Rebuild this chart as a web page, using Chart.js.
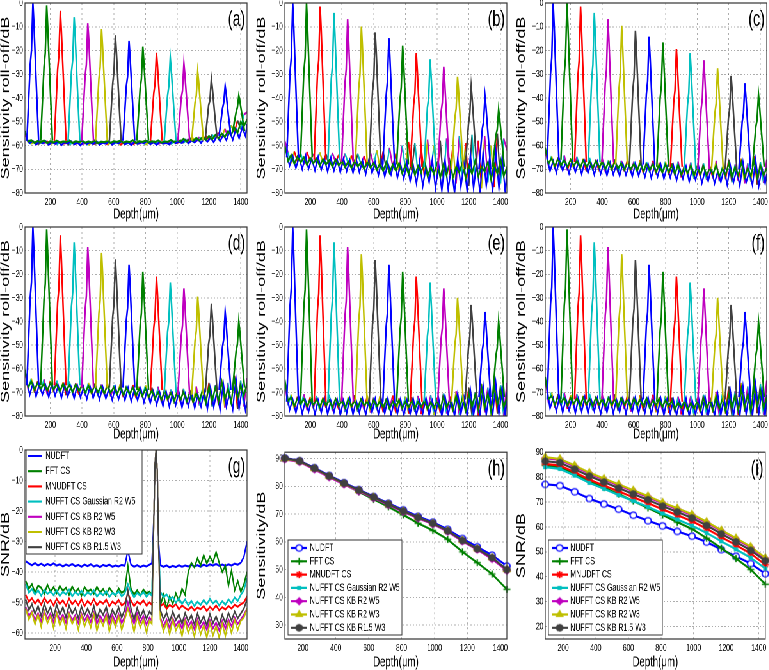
<!DOCTYPE html>
<html>
<head>
<title>Sensitivity roll-off</title>
<script src="https://cdn.jsdelivr.net/npm/chart.js@4.4.1/dist/chart.umd.min.js"></script>
<style>
body { margin: 0; background: #fff; overflow: hidden; }
#page { position: absolute; left: 0; top: 0; width: 1202px; height: 670px; transform-origin: 0 0; }
.cell { position: absolute; }
</style>
</head>
<body>
<div id="page"></div>
<script>
// ---- data ----
const depthPeak = [90,177,263,350,436,523,610,696,783,869,956,1042,1129,1215,1302,1388];
const peakOffset = [-38,-17,-9,0,6,20,36];
const depthNoise = [40,60,80,100,120,140,160,180,200,220,240,260,280,300,320,340,360,380,400,420,
  440,460,480,500,520,540,560,580,600,620,640,660,680,700,720,740,760,780,800,820,
  840,860,880,900,920,940,960,980,1000,1020,1040,1060,1080,1100,1120,1140,1160,1180,1200,1220,
  1240,1260,1280,1300,1320,1340,1360,1380,1400,1420,1440];
const depthNoiseB = [50,70,90,110,130,150,170,190,210,230,250,270,290,310,330,350,370,390,410,430,
  450,470,490,510,530,550,570,590,610,630,650,670,690,710,730,750,770,790,810,830,
  850,870,890,910,930,950,970,990,1010,1030,1050,1070,1090,1110,1130,1150,1170,1190,1210,1230,
  1250,1270,1290,1310,1330,1350,1370,1390,1410,1430,1440];
const depthTicks = [200,400,600,800,1000,1200,1400];
const rollTicks = [-80,-70,-60,-50,-40,-30,-20,-10,0];

const peaksA = [
  [-58,-26,-20,0,-8,-32,-58],[-58,-27,-21,-1,-9,-32,-58],[-58,-28,-22,-3.3,-11,-33,-58],[-58,-29,-24,-6,-13,-35,-58],
  [-58,-31,-26,-8.5,-15,-36,-58],[-58,-32,-27,-11,-18,-37,-58],[-58,-34,-29,-13.6,-20,-38,-58],[-58,-35,-31,-16,-22,-39,-58],
  [-58,-36,-32,-18.4,-24,-40,-58],[-58,-38,-34,-21,-26,-41,-58],[-58,-39,-35,-23,-28,-42,-58],[-58,-40,-37,-25.5,-30,-43,-58],
  [-58,-42,-39,-29,-33,-45,-58],[-57,-43,-41,-32,-35.5,-46,-57],[-56,-44.5,-42,-35,-38,-47,-56],[-54,-46,-44,-39,-41,-47,-54]];
const peaksB = [
  [-65,-29,-23,0,-9,-36,-65],[-65,-29,-23,0,-9,-36,-65],[-66,-30,-24,-1.5,-10.5,-37,-66],[-66,-32,-26,-4.2,-13,-38,-66],
  [-67,-34,-28,-6.8,-15,-40,-67],[-67,-36,-30,-9.9,-18,-41,-67],[-68,-37,-32,-12.4,-20,-43,-68],[-68,-39,-33,-14.8,-22,-44,-68],
  [-68,-40.5,-35.5,-18,-25,-45.5,-68],[-69,-43,-38,-21.1,-28,-47,-69],[-69,-44,-40,-23.7,-30,-49,-69],[-70,-46,-42,-26.9,-33,-51,-70],
  [-70,-48.5,-44.5,-31.1,-36.5,-52.5,-70],[-70,-51,-47,-35.2,-40,-54,-70],[-70,-53,-50,-39.2,-43.5,-56,-70],[-69,-55.7,-53.3,-44.8,-48.2,-58,-69]];
const peaksC = [
  [-66,-30,-23,0,-9,-36,-66],[-66,-30,-23,0,-9,-36,-66],[-67,-31,-24.4,-1.5,-10.7,-37.5,-67],[-67,-32.5,-26,-4.2,-13,-38.7,-67],
  [-67,-34,-28,-6.8,-15,-40,-67],[-68,-36,-30,-9.6,-18,-41.7,-68],[-68,-37,-31.4,-11.7,-19.6,-42.7,-68],[-68,-38.4,-33,-14.2,-21.7,-43.8,-68],
  [-69,-40.2,-35,-16.6,-24,-45.4,-69],[-69,-41.7,-36.8,-19.4,-26.3,-46.7,-69],[-70,-43,-38,-21.1,-28,-48,-70],[-70,-44.8,-40.2,-24.1,-30.5,-49.3,-70],
  [-70,-46.6,-42.4,-27.5,-33.4,-50.9,-70],[-70,-48.4,-44.5,-30.7,-36.2,-52.3,-70],[-70,-50,-46.5,-33.8,-39,-53.7,-70],[-69,-52.2,-49.2,-38.5,-42.8,-55.3,-69]];
const peaksD = [
  [-67,-30,-23.4,0,-9.4,-36.8,-67],[-67,-30.7,-24,-1,-10.2,-37.3,-67],[-67,-32,-25.7,-3.5,-12.4,-38.4,-67],[-67,-33.7,-27.7,-6.5,-15,-39.8,-67],
  [-68,-35.3,-29.3,-8.5,-16.8,-41.2,-68],[-68,-36.6,-31,-11,-19,-42.3,-68],[-68,-38.1,-32.7,-13.7,-21.3,-43.6,-68],[-68,-39.4,-34.2,-16,-23.3,-44.6,-68],
  [-69,-41.5,-36.5,-19,-26,-46.5,-69],[-69,-42.6,-37.8,-21,-27.7,-47.4,-69],[-70,-44.4,-39.8,-23.5,-30,-49.1,-70],[-71,-46.3,-41.8,-26,-32.3,-50.8,-71],
  [-71,-48.2,-44,-29.5,-35.3,-52.3,-71],[-70,-49.4,-45.6,-32.5,-37.7,-53.1,-70],[-69,-50.8,-47.5,-36,-40.6,-54.1,-69],[-68,-52.6,-49.8,-40,-43.9,-55.4,-68]];
const peaksE = [
  [-74,-33.3,-25.9,0,-10.4,-40.7,-74],[-74,-33.8,-26.5,-1,-11.2,-41.1,-74],[-74,-35.2,-28.2,-3.5,-13.4,-42.3,-74],[-74,-36.9,-30.1,-6.5,-16,-43.6,-74],
  [-74,-38,-31.4,-8.5,-17.7,-44.5,-74],[-74,-39.6,-33.4,-11.5,-20.3,-45.9,-74],[-74,-41,-35,-14,-22.4,-47,-74],[-74,-42.1,-36.3,-16,-24.1,-47.9,-74],
  [-74,-43.8,-38.3,-19,-26.7,-49.3,-74],[-74,-44.8,-39.5,-21,-28.4,-50.1,-74],[-74,-46.2,-41.2,-23.5,-30.6,-51.3,-74],[-74,-47.6,-42.8,-26,-32.7,-52.4,-74],
  [-74,-49.8,-45.4,-30,-36.2,-54.2,-74],[-73,-51,-47,-33,-38.6,-55,-73],[-72,-52.2,-48.6,-36,-41,-55.8,-72],[-72,-54.4,-51.2,-40,-44.5,-57.6,-72]];
const peaksF = [
  [-73,-32.8,-25.5,0,-10.2,-40.1,-73],[-73,-33.4,-26.2,-1,-11.1,-40.6,-73],[-73,-34.8,-27.8,-3.5,-13.2,-41.7,-73],[-73,-36.4,-29.8,-6.5,-15.8,-43.1,-73],
  [-73,-37.5,-31.1,-8.5,-17.5,-44,-73],[-73,-39.2,-33,-11.5,-20.1,-45.3,-73],[-73,-40.5,-34.6,-14,-22.3,-46.4,-73],[-73,-41.6,-36,-16,-24,-47.3,-73],
  [-74,-43.8,-38.3,-19,-26.7,-49.3,-74],[-74,-44.8,-39.5,-21,-28.4,-50.1,-74],[-74,-46.2,-41.2,-23.5,-30.6,-51.3,-74],[-74,-47.6,-42.8,-26,-32.7,-52.4,-74],
  [-74,-49.8,-45.4,-30,-36.2,-54.2,-74],[-73,-51,-47,-33,-38.6,-55,-73],[-72,-52.2,-48.6,-36,-41,-55.8,-72],[-72,-54.4,-51.2,-40,-44.5,-57.6,-72]];

// noise floor of the overlapping traces: [mixed colours, blue, green]
const floorA = [
  [-55,-58.6,-59.2,-58.4,-59.5,-58.7,-59.1,-58.3,-59.4,-58.8, -59.6,-58.5,-59.2,-58.9,-59.7,-58.6,-59.3,-58.4,-59.5,-58.9,
   -59.8,-58.7,-59.4,-58.6,-59.2,-58.5,-59.6,-58.8,-59.3,-58.4, -59.7,-58.9,-59.2,-58.6,-59.5,-58.7,-59.3,-58.5,-59.6,-58.8,
   -59.1,-58.3,-59.4,-58.6,-59.2,-58.4,-59.5,-58.2,-59,-57.8, -58.9,-57.5,-58.6,-57,-58.3,-56.5,-58,-56,-57.6,-55.5,
   -57.2,-54.5,-56.8,-53,-56,-51.5,-54.5,-49.5,-53,-47, -46],
  [-57.5,-58.9,-58.1,-59.6,-58.4,-59,-58.2,-59.7,-58.5,-59.2, -58.3,-59.8,-58.6,-59.1,-58.2,-59.5,-58.7,-59.9,-58.4,-59.3,
   -58.6,-59.4,-58.1,-59.7,-58.8,-59.2,-58.3,-59.6,-58.5,-59.1, -58.2,-59.5,-58.7,-59.8,-58.4,-59.3,-58.6,-59,-58.1,-59.4,
   -58.5,-59.7,-58.3,-59.2,-58.8,-59.5,-58.1,-59,-58.4,-58.9, -57.6,-59.1,-57.9,-58.7,-57.3,-58.9,-57,-58.4,-56.8,-58.6,
   -56,-58.2,-55.5,-57.8,-54,-57.6,-53,-57,-52.5,-56, -51],
  [-54,-58.3,-57.8,-58.9,-58.1,-58.6,-57.9,-59,-58.2,-58.7, -58,-58.8,-58.3,-58.5,-57.9,-58.9,-58.2,-58.6,-58,-58.8,
   -58.3,-58.7,-57.9,-59,-58.4,-58.6,-58.1,-58.9,-58.2,-58.5, -58,-58.8,-58.3,-58.6,-57.8,-58.9,-58.2,-58.5,-58,-58.7,
   -58.2,-58.6,-57.9,-58.8,-58.3,-58.5,-57.7,-58.6,-57.6,-58.4, -57.2,-58.3,-57,-58.1,-56.8,-57.9,-56.4,-57.6,-56,-57.4,
   -55.6,-57,-55,-56.4,-54,-55.6,-52.5,-54.8,-50,-52, -49]];
const floorB = [
  [-58,-63,-67.5,-62.5,-66.8,-63.2,-68,-62.8,-66.5,-63.5, -67.8,-62.9,-66.9,-63.7,-68.2,-63.1,-67,-64,-68.5,-63.4,
   -67.6,-64.2,-68.8,-63.5,-67.9,-64.5,-69,-63,-68.3,-62, -69.5,-62.5,-70,-61,-68.8,-63.5,-71,-60,-69.5,-58.5,
   -70.5,-59,-72,-61,-73,-57.5,-71.5,-60,-74,-58, -75,-57,-72.5,-60,-76,-56,-73.5,-59,-77,-55.5,
   -74,-58,-78,-56,-75.5,-60,-77.5,-55,-76,-57, -62],
  [-63,-68.5,-64.5,-69.5,-65,-70,-64.2,-69.8,-65.5,-70.5, -64.8,-70.2,-65.8,-71,-65.2,-70.6,-66,-71.3,-65.5,-70.8,
   -66.2,-71.5,-65.8,-71.2,-66.5,-72,-66,-71.6,-67,-72.5, -66.5,-73,-67.5,-72.2,-66.8,-73.5,-68,-74,-67,-75,
   -68.5,-76,-67,-77,-69,-75.5,-66,-78,-68,-79, -66,-78.5,-69,-80,-65.5,-77.5,-68,-79.5,-64,-78,
   -67,-80,-63,-77,-66,-79.5,-62.5,-78,-65,-80, -70],
  [-60,-66.5,-64,-67.8,-64.6,-67.2,-65,-68.3,-65.2,-67.5, -65.5,-68.6,-65.8,-68,-66.2,-69,-65.9,-68.4,-66.5,-69.2,
   -66.8,-69.5,-66.4,-68.8,-67.2,-70,-66.9,-69.4,-67.5,-70.3, -67.6,-70.8,-67,-71.5,-68,-70.6,-67.4,-71.8,-68.3,-72,
   -67,-72.5,-68.6,-71.5,-66.5,-73,-69,-72,-67.5,-73.5, -68,-72.8,-66.5,-73.5,-69,-71.5,-67,-74,-68.5,-72,
   -66.5,-73,-69,-71,-67,-74.5,-68,-72,-66,-73, -69]];
const floorC = [
  [-62,-68.5,-64.5,-70,-65,-69.5,-64.2,-70.5,-65.5,-69.8, -64.8,-70.2,-65.6,-71,-65.2,-70.5,-66,-70.8,-65.4,-71.2,
   -66.2,-70.6,-65.8,-71.4,-66.5,-70.9,-66,-71.6,-66.8,-71.2, -66.2,-71.8,-67,-71.3,-66.5,-72.2,-67.3,-71.6,-66.8,-72.5,
   -67.5,-72.8,-66.8,-73.5,-68,-72.6,-67.2,-74,-68.5,-73.2, -67.5,-74.5,-68.8,-73.8,-66.5,-75,-69,-74.2,-66,-75.5,
   -68,-74.8,-65.5,-76,-67.5,-75.2,-64.5,-76.5,-67,-75.8, -66],
  [-65,-70.8,-66.5,-71.5,-66,-70.5,-67.2,-71.8,-66.4,-71.2, -67,-72,-66.6,-71.5,-67.5,-72.3,-66.8,-71.9,-67.6,-72.6,
   -67.2,-72.2,-68,-72.8,-67.5,-72.4,-68.3,-73,-67.6,-72.7, -68.5,-73.2,-67.8,-73.6,-68.7,-73.1,-68,-74,-69,-73.5,
   -68.4,-74.6,-69.5,-74,-68.8,-75.2,-70,-74.5,-69.2,-75.8, -70.5,-75,-69.5,-76,-71,-75.4,-69.8,-76.5,-68.5,-75.5,
   -70,-77,-67,-75.5,-71,-76.8,-66,-77,-69.5,-76, -72],
  [-61,-67.5,-65.5,-68.6,-65.8,-68.2,-66.2,-69,-66,-68.5, -66.5,-69.3,-66.3,-68.9,-66.8,-69.6,-66.5,-69.2,-67,-69.8,
   -67.2,-70,-66.9,-69.6,-67.5,-70.3,-67.1,-69.9,-67.8,-70.5, -67.5,-70.8,-68,-70.4,-67.8,-71,-68.3,-71.4,-68,-71.2,
   -68.6,-71.8,-68.2,-72.3,-69,-71.6,-68.5,-72.5,-69.2,-72, -68.8,-72.6,-69.5,-72,-68.4,-73,-69.8,-72.4,-67.5,-73.2,
   -69,-72.5,-67,-73.5,-69.5,-72.8,-66.5,-73.8,-68.5,-72.6, -69.5]];
const floorD = [
  [-61,-68.8,-64.2,-70.2,-65.3,-69.6,-64.5,-70.8,-65.2,-70, -65,-70.5,-65.8,-71.2,-65.4,-70.7,-66.2,-71,-65.6,-71.4,
   -66,-70.8,-66.3,-71.6,-66.7,-71,-66.2,-71.8,-67,-71.4, -66.6,-72,-67.2,-71.5,-66.9,-72.4,-67.6,-72,-67,-72.8,
   -68,-73.5,-67.6,-74.2,-68.5,-73.8,-68.8,-74.8,-69,-74.2, -68.5,-75,-69.2,-74.5,-67.5,-75.6,-68,-74.8,-66,-76,
   -67,-75.5,-64.5,-76.5,-66,-75,-63,-77,-65,-76, -64],
  [-64.5,-71,-66.2,-71.8,-66.6,-70.9,-67,-72,-66.3,-71.4, -67.2,-72.2,-66.8,-71.7,-67.6,-72.5,-67,-72.1,-67.8,-72.8,
   -67.4,-72.4,-68.1,-73,-67.7,-72.6,-68.4,-73.2,-67.8,-72.9, -68.6,-73.4,-68,-73.8,-68.9,-73.3,-68.3,-74.2,-69.2,-74.5,
   -69.5,-75.2,-70.2,-75.8,-69.6,-76,-70.5,-75.4,-69.8,-76.4, -70.6,-75.8,-69.8,-76.6,-71,-76,-69.5,-77,-68,-76.2,
   -69.5,-77.5,-66,-76,-70.5,-77.2,-64,-76.8,-68,-77.5, -74],
  [-60.5,-67.8,-65.4,-68.8,-66,-68.3,-66.4,-69.2,-66.1,-68.7, -66.7,-69.5,-66.4,-69,-67,-69.8,-66.6,-69.4,-67.2,-70,
   -67.3,-70.2,-67,-69.8,-67.6,-70.5,-67.2,-70.1,-67.9,-70.7, -67.7,-71,-68.2,-70.6,-68,-71.3,-68.6,-71.6,-68.4,-71.9,
   -69.2,-72.6,-70,-73.2,-69.5,-72.8,-70.3,-73.6,-69.8,-73, -70,-73.8,-69.6,-74.2,-70.5,-73.4,-69,-74.6,-67.5,-73.5,
   -68,-74,-65.5,-73,-68.5,-74.5,-64,-72.5,-67,-71.5, -66]];
const floorE = [
  [-66,-75.5,-71,-77,-71.8,-76.2,-70.8,-77.5,-72,-76.8, -71.5,-77.8,-72.2,-76.5,-71,-78,-72.4,-77.2,-71.6,-78.3,
   -72,-77,-71.2,-78.2,-72.5,-77.4,-71.4,-78.6,-72.2,-77.6, -71.6,-78.4,-72.6,-77.3,-71.3,-78.8,-72.4,-77.8,-71.8,-79,
   -72,-78.2,-71.5,-79.2,-72.6,-78,-71.2,-79.5,-72.3,-78.6, -70.5,-79,-71.8,-78.4,-69.5,-79.6,-71,-78.8,-68,-79.8,
   -70,-80,-66.5,-78.5,-68,-80,-65,-79,-67,-80, -66],
  [-69,-77.5,-73,-78.6,-72.6,-79,-73.4,-78.2,-72.8,-79.4, -73.2,-78.6,-72.5,-79.2,-73.6,-78.4,-72.9,-79.6,-73.4,-78.8,
   -72.7,-79.3,-73.5,-78.7,-72.8,-79.5,-73.2,-78.5,-72.6,-79.2, -73.4,-78.9,-72.5,-79.6,-73.8,-79,-72.9,-79.8,-73.3,-79.1,
   -72.8,-79.4,-73.6,-78.8,-72.4,-79.7,-73.5,-79.2,-72.6,-80, -71.5,-79.5,-72.8,-80,-70.5,-79.2,-72,-80,-69,-79.6,
   -71,-80,-67,-79.5,-69.5,-80,-66,-79,-68,-80, -70],
  [-64.5,-73.5,-72.2,-75.8,-72.6,-74.8,-72.9,-76,-73,-75.3, -73.1,-76.2,-72.8,-75.5,-73.4,-76.4,-72.7,-75.7,-73.5,-76.6,
   -73,-75.9,-73.6,-76.5,-72.9,-75.6,-73.7,-76.8,-73.2,-75.8, -73.8,-76.3,-73.1,-76.9,-73.9,-75.9,-73.3,-76.7,-74,-76.2,
   -73.5,-76.8,-74.1,-76.1,-73.4,-77,-74.2,-76.4,-73.6,-77.2, -72,-76.5,-73.2,-77.4,-71.5,-76.8,-72.5,-77.8,-70.5,-76,
   -71,-77.5,-68,-76.5,-70.5,-78,-67.5,-75.5,-69,-76.5, -72]];
const floorF = [
  [-64,-74.5,-70,-76.5,-70.8,-75.8,-70.2,-77,-71.2,-76.2, -70.8,-77.2,-71.5,-76,-70.6,-77.6,-71.8,-76.8,-71,-77.8,
   -71.6,-76.6,-70.8,-77.8,-72,-77,-71,-78.2,-71.8,-77.2, -71.2,-78,-72.2,-77,-71,-78.4,-72,-77.5,-71.5,-78.7,
   -72.2,-78.4,-71.8,-79.4,-72.8,-78.2,-71.5,-79.8,-72.6,-78.8, -71,-79.5,-72,-78.6,-69.8,-79.8,-70.5,-79,-67.5,-80,
   -69.5,-79.6,-66,-78.2,-67.5,-80,-64.5,-78.8,-66.5,-79.5, -65],
  [-68,-76.8,-72.4,-78,-72,-78.5,-72.8,-77.6,-72.2,-78.8, -72.6,-78.2,-72,-78.8,-73,-78,-72.4,-79.2,-72.9,-78.4,
   -72.3,-78.9,-73,-78.3,-72.4,-79.1,-72.8,-78.1,-72.2,-78.8, -73,-78.6,-72.1,-79.3,-73.4,-78.7,-72.6,-79.6,-73,-79,
   -73.2,-79.6,-73.8,-79,-72.6,-80,-73.7,-79.4,-72.8,-80, -71.8,-79.8,-73,-80,-70.8,-79.5,-72.2,-80,-69.5,-79.8,
   -71.5,-80,-67.5,-79.2,-70,-80,-66.5,-79,-68.5,-80, -71],
  [-63.5,-72.8,-71.6,-75.2,-72,-74.3,-72.3,-75.5,-72.4,-74.8, -72.5,-75.7,-72.2,-75,-72.8,-75.9,-72.1,-75.2,-72.9,-76.1,
   -72.4,-75.4,-73,-76,-72.3,-75.1,-73.1,-76.3,-72.6,-75.3, -73.2,-75.8,-72.5,-76.4,-73.3,-75.4,-72.7,-76.2,-73.4,-75.7,
   -73.8,-77,-74.4,-76.5,-73.7,-77.4,-74.5,-76.8,-73.9,-77.6, -72.4,-76.8,-73.5,-77.6,-71.8,-77,-72.8,-78,-70.8,-76.4,
   -71.2,-77.8,-68.5,-76.8,-70.8,-78.2,-67.8,-75.8,-69.2,-76.8, -72]];

// panel (g): SNR along depth, one reflector
const depthG = [10,30,50,70,90,110,130,150,170,190, 210,230,250,270,290,310,330,350,370,390,
  410,430,450,470,490,510,530,550,570,590, 610,630,650,670,690,710,730,750,770,790,
  810,825, 838,845,852,860,868, 880,900,920,940,960,980,1000,1020,1040,1060,
  1080,1100,1120,1140,1160,1180,1200,1220,1240,1260, 1280,1300,1320,1340,1360,1380,1400,1420,1440];
const snrTicks = [-60,-50,-40,-30,-20,-10,0];
const gNUDFT = [-36.5,-37.2,-37.8,-37.1,-37.9,-37.3,-38,-37.4,-37.8,-37.2, -37.9,-37.5,-38.2,-37.6,-38,-37.4,-38.1,-37.7,-38.3,-37.6,
  -38.1,-37.5,-38.2,-37.8,-38.4,-37.7,-38.1,-37.6,-38.3,-37.9, -38.2,-37.7,-38,-33,-37.6,-38.3,-37.8,-38.4,-37.9,-38.2,
  -37.6,-37.2, -22,-5,0,-7,-30, -37.8,-38.3,-37.9,-38.5,-38,-38.4,-37.8,-38.3,-37.9,-38.2,
  -37.7,-38.2,-37.8,-38.3,-37.6,-38.1,-37.5,-37.9,-37.4,-38, -37.6,-38,-37.5,-37.9,-37.3,-37.6,-37,-35,-30];
const gFFT = [-43,-45.5,-44,-46.8,-44.5,-45.2,-47.2,-44.2,-46.5,-45, -47,-44.6,-46.2,-45.2,-47.5,-44.8,-46.6,-45.5,-47.8,-45,
  -46.4,-45.8,-47.2,-44.9,-46.8,-45.6,-47.5,-45.2,-46.6,-47.8, -45.4,-46.9,-46,-38,-45.5,-47.4,-46,-47.8,-45.8,-47,
  -46.5,-47.5, -22,-5,0,-7,-30, -51,-47.5,-52,-48,-50.5,-47,-49.5,-45.5,-47.5,-40,
  -37,-38.5,-35.5,-37.8,-34.5,-37.2,-35,-36.8,-33.5,-37, -40,-38,-44.5,-39.5,-46,-43,-46.5,-44,-40];
const gMNUDFT = [-47.5,-49.8,-48.6,-50.4,-49,-50.8,-48.5,-50.2,-49.2,-51, -48.8,-50.5,-49.3,-51.1,-48.7,-50.6,-49.4,-50.9,-48.9,-51.2,
  -49.5,-50.7,-48.9,-51,-49.6,-50.4,-49.1,-51.3,-49.7,-50.6, -49.2,-51,-50.2,-47,-49.4,-51.2,-49.8,-50.6,-49.3,-51,
  -50,-50.8, -22,-5,0,-7,-30, -51.2,-50.4,-52.1,-50.8,-51.6,-50.5,-52.3,-51,-51.8,-52.5,
  -51.4,-52.6,-51.7,-52.2,-51.2,-52.8,-51.5,-52.4,-51,-52.6, -51.6,-52.3,-51.2,-52,-50.8,-51.4,-50.6,-50,-48];
const gGauss = [-44,-46.8,-45.6,-47.4,-46,-47.8,-45.9,-47.2,-46.4,-47.6, -46.1,-47.9,-46.5,-47.3,-45.8,-48,-46.6,-47.5,-46.2,-47.9,
  -46.7,-47.4,-46,-48.1,-46.8,-47.6,-46.3,-48.2,-46.9,-47.5, -46.4,-48,-47,-44,-46.5,-48.3,-46.9,-47.8,-46.6,-48.1,
  -47,-47.8, -22,-5,0,-7,-30, -46.5,-48.2,-47.4,-49,-48.2,-50.1,-48.6,-50.5,-49,-51,
  -49.5,-51.2,-49.8,-50.8,-49.2,-50.6,-48.8,-50.3,-49.4,-51, -49.6,-50.8,-49,-50.2,-48.4,-49.5,-47.5,-46,-42];
const gKB25 = [-51.5,-54.5,-53,-55.8,-53.5,-56.2,-52.8,-55.4,-53.6,-56.5, -53.2,-55.8,-54,-56.6,-53.4,-55.9,-54.2,-56.8,-53.6,-56,
  -54,-56.4,-53.3,-57,-54.3,-56.2,-53.7,-57.2,-54.1,-56.5, -53.8,-56.8,-54.6,-50,-54.2,-57,-53.6,-56.5,-54.4,-57.3,
  -55,-56, -22,-5,0,-7,-30, -55,-57.8,-55.6,-58.4,-55.2,-57.6,-56,-58.6,-55.4,-57.9,
  -56.2,-58.8,-55.5,-58.2,-56.4,-59,-55.8,-58.5,-56.6,-59.2, -56,-58.6,-55.6,-57.8,-55,-57,-55.6,-54,-52];
const gKB23 = [-52,-55.6,-53.4,-57.2,-54,-58,-53.2,-56.8,-54.5,-58.4, -53.6,-57.5,-54.8,-58.6,-53.9,-57,-55,-59,-54.2,-57.8,
  -55.1,-58.2,-54,-59.3,-55.4,-57.6,-54.5,-59.5,-55.3,-58, -54.6,-59,-55.5,-52,-55.2,-59.6,-54.8,-58.2,-55.6,-59.8,
  -56,-57, -22,-5,0,-7,-30, -55.5,-59.5,-56.5,-60.4,-55.8,-59.2,-57,-61,-56.2,-60,
  -57.4,-61.2,-56.4,-60.5,-57.6,-61.5,-56.8,-60.8,-57.8,-61.6, -57,-61,-56.5,-60,-55.8,-59,-56,-55,-52];
const gKB153 = [-49,-52.5,-50.6,-53.8,-51.2,-54.5,-50.4,-53.6,-51.5,-54.8, -50.8,-54,-51.6,-54.9,-51,-53.7,-51.9,-55.2,-51.3,-54.2,
  -52,-54.6,-51.2,-55.3,-52.2,-54.1,-51.5,-55.5,-52.4,-54.4, -51.6,-55,-52.3,-46,-52,-55.6,-51.8,-54.8,-52.5,-55.4,
  -53,-54, -22,-5,0,-7,-30, -52.5,-55.6,-53.4,-56.4,-53,-55.8,-54,-57,-53.5,-56.2,
  -54.2,-57.2,-53.6,-56.6,-54.5,-57.5,-53.8,-56.8,-54.6,-57.4, -54,-56.8,-53.5,-56,-53,-55.2,-53.6,-52,-49];

// panels (h) and (i)
const depthH = [90,180,270,360,450,540,630,720,810,900,990,1080,1170,1260,1350,1440];
const sensTicks = [30,40,50,60,70,80,90];
const snrTicksI = [20,30,40,50,60,70,80,90];
const hNUDFT = [90.2,89.2,86.7,83.9,81.3,78.8,76.3,73.9,71.5,69.2,67.1,64.5,61.2,58.2,55.2,51.3];
const hFFT = [90,89,86.3,83.4,80.8,78,75.3,72.6,69.7,66.7,64.1,60.9,56.4,52.5,48.4,42.9];
const hMNUDFT = [90,89,86.4,83.6,81,78.5,76,73.5,71,68.7,66.6,63.9,60.4,57.4,54.2,49.9];
const hGauss = [89.9,88.9,86.3,83.5,80.9,78.4,75.9,73.4,70.9,68.6,66.5,63.8,60.3,57.3,54,49.8];
const hKB25 = [89.7,88.8,86.1,83.3,80.7,78.2,75.8,73.3,70.8,68.5,66.4,63.7,60.2,57.2,53.8,49.6];
const hKB23 = [90,89,86.4,83.6,81,78.5,76.1,73.6,71.1,68.8,66.7,64,60.5,57.5,54.3,50];
const hKB153 = [90.1,89.1,86.5,83.7,81.1,78.6,76.1,73.6,71.1,68.8,66.7,64,60.5,57.5,54.3,50];
const iNUDFT = [77.1,76.6,74.1,71.4,69.2,67.1,64.7,62.5,60.4,58.2,56.3,53.9,50.9,48.2,45.3,41.2];
const iFFT = [84.8,84,81.4,78.4,75.8,73.2,70.4,67.6,64.8,61.9,59.2,55.5,51.5,47.3,42.9,37];
const iMNUDFT = [85.3,84.6,82,79,76.6,74.3,71.9,69.6,67,64.7,62.3,59.3,55.9,52.7,49.3,44.8];
const iGauss = [84,83.3,80.6,77.7,75.3,72.8,70.4,68,65.4,63,60.5,57.6,54.2,51,47.6,43.3];
const iKB25 = [87.6,86.9,84.3,81.4,79,76.7,74.3,72,69.4,67.1,64.7,61.7,58.3,55.1,51.7,47.2];
const iKB23 = [88,87.3,84.7,81.8,79.4,77.1,74.7,72.4,69.8,67.5,65.1,62.1,58.7,55.5,52.1,47.6];
const iKB153 = [86.4,85.8,83.2,80.4,78,75.6,73.2,70.9,68.3,66,63.6,60.6,57.2,54,50.6,46.4];
const seriesNames = ['NUDFT','FFT CS','MNUDFT CS','NUFFT CS Gaussian R2 W5','NUFFT CS KB R2 W5','NUFFT CS KB R2 W3','NUFFT CS KB R1.5 W3'];

// ---- styling ----
const SX = 0.64; // the figure is squeezed horizontally
const FONT = '"Liberation Sans", Arial, Helvetica, sans-serif';
const C = {blue:'#0000ff', green:'#008000', red:'#ff0000', cyan:'#00bfbf', magenta:'#bf00bf', yellow:'#bfbf00', gray:'#404040'};
const seriesColors = [C.blue, C.green, C.red, C.cyan, C.magenta, C.yellow, C.gray];
const peakColors = [C.blue,C.green,C.red,C.cyan,C.magenta,C.yellow,C.gray,C.blue,C.green,C.red,C.cyan,C.magenta,C.yellow,C.gray,C.blue,C.green];
const floorMix = [C.magenta, C.cyan, C.yellow, C.red, C.gray, C.cyan, C.magenta, C.red, C.yellow];
const GRID = 'rgba(0,0,0,0.32)';

Chart.defaults.font.family = FONT;
Chart.defaults.color = '#000';

const zip = (xs, ys) => ys.map((y, i) => ({x: xs[i], y: y}));
const tickText = v => String(v).replace('-', '\u2212');

function markerCanvas(style, color, fill, r, bw) {
  const h = Math.ceil(2 * r + bw + 2), w = Math.ceil(h / SX);
  const cv = document.createElement('canvas');
  cv.width = w; cv.height = h;
  const g = cv.getContext('2d');
  g.translate(w / 2, h / 2);
  g.scale(1 / SX, 1);
  g.strokeStyle = color; g.fillStyle = fill; g.lineWidth = bw;
  Chart.helpers.drawPoint(g, {pointStyle: style, radius: r, borderWidth: bw, rotation: 0}, 0, 0);
  return cv;
}
const markers = [
  markerCanvas('circle', C.blue, '#fff', 3.2, 1.3),
  markerCanvas('cross', C.green, C.green, 3.5, 1.4),
  markerCanvas('star', C.red, C.red, 3.5, 1.4),
  markerCanvas('rect', C.cyan, C.cyan, 2.2, 1),
  markerCanvas('rectRot', C.magenta, C.magenta, 3.6, 1),
  markerCanvas('triangle', C.yellow, C.yellow, 4, 1),
  markerCanvas('star', C.gray, C.gray, 3.8, 2.4)
];

const framePlugin = {
  id: 'frame',
  afterDatasetsDraw(chart) {
    const {ctx, chartArea: a} = chart;
    ctx.save();
    ctx.strokeStyle = '#333';
    ctx.lineWidth = 1.2;
    ctx.strokeRect(a.left, a.top, a.right - a.left, a.bottom - a.top);
    ctx.restore();
  }
};

const boxLegend = {
  id: 'boxLegend',
  afterDatasetsDraw(chart, args, o) {
    if (!o || !o.w) return;
    const {ctx, chartArea: a} = chart;
    const bx = a.left + o.x;
    const by = o.fromBottom ? a.bottom - o.y - o.h : a.top + o.y;
    ctx.save();
    ctx.fillStyle = '#fff';
    ctx.fillRect(bx, by, o.w, o.h);
    ctx.strokeStyle = '#333';
    ctx.lineWidth = 1;
    ctx.strokeRect(bx, by, o.w, o.h);
    ctx.font = '11px ' + FONT;
    ctx.textBaseline = 'middle';
    chart.data.datasets.forEach((d, i) => {
      const cy = by + o.first + i * o.step;
      ctx.strokeStyle = d.borderColor;
      ctx.lineWidth = d.borderWidth;
      ctx.beginPath();
      ctx.moveTo(bx + o.l0, cy);
      ctx.lineTo(bx + o.l1, cy);
      ctx.stroke();
      if (o.markers && d.pointStyle) {
        Chart.helpers.drawPoint(ctx, {pointStyle: d.pointStyle, radius: 4, borderWidth: 1, rotation: 0}, bx + (o.l0 + o.l1) / 2, cy);
      }
      ctx.fillStyle = '#000';
      ctx.fillText(d.label, bx + o.tx, cy);
    });
    ctx.restore();
  }
};

const panelTag = {
  id: 'panelTag',
  afterDraw(chart, args, o) {
    const {ctx, chartArea: a} = chart;
    ctx.save();
    ctx.font = '22px ' + FONT;
    ctx.fillStyle = '#000';
    ctx.textAlign = 'right';
    ctx.textBaseline = 'top';
    ctx.fillText(o.text, a.right - 3, a.top + 6);
    ctx.restore();
  }
};

// ---- layout (unscaled px) ----
const colLeft = [0, 400, 806], colWidth = [400, 406, 396];
const yAxisW = [39, 45, 46], padRight = [14, 14, 4];
const rowTop = [0, 222, 446], rowHeight = [222, 224, 224];
const padTop = [3, 5, 4], xAxisH = [29, 30, 31], xTitlePad = [0, 4, 0];

function rollSets(peaks, floors) {
  const ds = peaks.map((row, i) => ({
    data: row.map((y, k) => ({x: depthPeak[i] + peakOffset[k], y: y})),
    borderColor: peakColors[i], borderWidth: 2.5, order: 0
  }));
  ds.push({data: zip(depthNoise, floors[2]), borderColor: C.green, borderWidth: 2.2, order: 1});
  ds.push({data: zip(depthNoiseB, floors[1]), borderColor: C.blue, borderWidth: 2.2, order: 2});
  ds.push({data: zip(depthNoise, floors[0]), borderColor: C.magenta, borderWidth: 2.2, order: 3,
    segment: {borderColor: c => floorMix[c.p0DataIndex % floorMix.length]}});
  return ds;
}
function snrSets(series) {
  return series.map((vals, i) => ({
    label: seriesNames[i], data: zip(depthG, vals), borderColor: seriesColors[i], borderWidth: 2.1, order: 6 - i
  }));
}
function curveSets(series) {
  return series.map((vals, i) => ({
    label: seriesNames[i], data: zip(depthH, vals), borderColor: seriesColors[i], borderWidth: 2.2,
    pointStyle: markers[i], pointRadius: 4, order: 6 - i, clip: false
  }));
}

const gLegend = {x: 2, y: 0, w: 181, h: 104, first: 6, step: 15.2, l0: 3, l1: 25, tx: 30, markers: false};
const hiLegend = {x: 5, y: 4, fromBottom: true, w: 178, h: 95, first: 8, step: 13.3, l0: 5, l1: 30, tx: 34, markers: true};

const panels = [
  {tag:'(a)', col:0, row:0, sets: rollSets(peaksA, floorA), x:[40,1440], y:[-80,0], yTicks: rollTicks, yTitle:'Sensitivity roll-off/dB'},
  {tag:'(b)', col:1, row:0, sets: rollSets(peaksB, floorB), x:[40,1440], y:[-80,0], yTicks: rollTicks, yTitle:'Sensitivity roll-off/dB'},
  {tag:'(c)', col:2, row:0, sets: rollSets(peaksC, floorC), x:[40,1440], y:[-80,0], yTicks: rollTicks, yTitle:'Sensitivity roll-off/dB'},
  {tag:'(d)', col:0, row:1, sets: rollSets(peaksD, floorD), x:[40,1440], y:[-80,0], yTicks: rollTicks, yTitle:'Sensitivity roll-off/dB'},
  {tag:'(e)', col:1, row:1, sets: rollSets(peaksE, floorE), x:[40,1440], y:[-80,0], yTicks: rollTicks, yTitle:'Sensitivity roll-off/dB'},
  {tag:'(f)', col:2, row:1, sets: rollSets(peaksF, floorF), x:[40,1440], y:[-80,0], yTicks: rollTicks, yTitle:'Sensitivity roll-off/dB'},
  {tag:'(g)', col:0, row:2, sets: snrSets([gNUDFT,gFFT,gMNUDFT,gGauss,gKB25,gKB23,gKB153]), x:[5,1440], y:[-62,0], yTicks: snrTicks, yTitle:'SNR/dB', legend: gLegend},
  {tag:'(h)', col:1, row:2, sets: curveSets([hNUDFT,hFFT,hMNUDFT,hGauss,hKB25,hKB23,hKB153]), x:[90,1440], y:[25,92.3], yTicks: sensTicks, yTitle:'Sensitivity/dB', legend: hiLegend},
  {tag:'(i)', col:2, row:2, sets: curveSets([iNUDFT,iFFT,iMNUDFT,iGauss,iKB25,iKB23,iKB153]), x:[90,1440], y:[15,90], yTicks: snrTicksI, yTitle:'SNR/dB', legend: hiLegend}
];

const page = document.getElementById('page');
page.style.transform = 'scaleX(' + SX + ')';

panels.forEach(p => {
  const cell = document.createElement('div');
  cell.className = 'cell';
  cell.style.left = colLeft[p.col] + 'px';
  cell.style.top = rowTop[p.row] + 'px';
  cell.style.width = colWidth[p.col] + 'px';
  cell.style.height = rowHeight[p.row] + 'px';
  const cv = document.createElement('canvas');
  cell.appendChild(cv);
  page.appendChild(cell);

  new Chart(cv, {
    type: 'line',
    data: {datasets: p.sets},
    options: {
      responsive: true,
      maintainAspectRatio: false,
      animation: false,
      devicePixelRatio: 2,
      layout: {padding: {top: padTop[p.row], right: padRight[p.col], left: 0, bottom: 0}},
      elements: {point: {radius: 0}, line: {tension: 0}},
      plugins: {
        legend: {display: false},
        tooltip: {enabled: false},
        boxLegend: p.legend || false,
        panelTag: {text: p.tag}
      },
      scales: {
        x: {
          type: 'linear', min: p.x[0], max: p.x[1],
          afterBuildTicks: s => { s.ticks = depthTicks.map(v => ({value: v})); },
          afterFit: s => { s.height = xAxisH[p.row]; s.paddingLeft = 0; s.paddingRight = 0; },
          grid: {color: GRID, drawTicks: false},
          border: {display: false, dash: [2, 3]},
          ticks: {font: {size: 10.5}, padding: 3, maxRotation: 0, autoSkip: false, callback: v => String(v)},
          title: {display: true, text: 'Depth(\u03bcm)', font: {size: 15, lineHeight: 1}, padding: {top: 0, bottom: xTitlePad[p.row]}}
        },
        y: {
          type: 'linear', min: p.y[0], max: p.y[1],
          afterBuildTicks: s => { s.ticks = p.yTicks.map(v => ({value: v})); },
          afterFit: s => { s.width = yAxisW[p.col]; s.paddingTop = 0; s.paddingBottom = 0; },
          grid: {color: GRID, drawTicks: false},
          border: {display: false, dash: [2, 3]},
          ticks: {font: {size: 10.5}, padding: 3, callback: v => tickText(v)},
          title: {display: true, text: p.yTitle, font: {size: 18, lineHeight: 1}, padding: {top: 0, bottom: 0}}
        }
      }
    },
    plugins: [framePlugin, boxLegend, panelTag]
  });
});
</script>
</body>
</html>
